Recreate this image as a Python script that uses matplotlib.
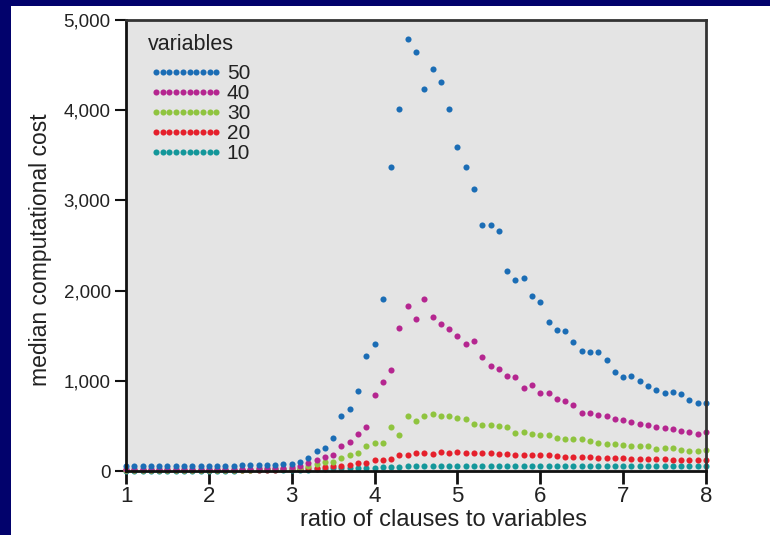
import matplotlib
matplotlib.use("Agg")
import matplotlib.pyplot as plt
import numpy as np
from matplotlib.patches import Rectangle
from matplotlib.ticker import StrMethodFormatter

plt.rcParams["font.family"] = ["Liberation Sans", "DejaVu Sans"]

# ratio of clauses to variables, step 0.1
ratio = np.round(np.arange(1.0, 8.01, 0.1), 1)

cost_50 = [60] * 10 + [
    60, 60, 60, 60, 62, 63, 66, 68, 70, 74,
    80, 100, 140, 222, 251, 370, 610, 690, 890, 1280,
    1410, 1910, 3365, 4012, 4792, 4648, 4235, 4459, 4315, 4012,
    3592, 3372, 3126, 2729, 2729, 2657, 2218, 2116, 2142, 1938,
    1870, 1650, 1563, 1556, 1431, 1329, 1317, 1321, 1234, 1101,
    1045, 1056, 995, 939, 901, 863, 874, 852, 791, 749,
    749,
]
cost_40 = [25] * 10 + [
    25, 25, 25, 25, 25, 27, 28, 30, 33, 37,
    45, 60, 85, 118, 160, 180, 280, 320, 415, 490,
    840, 985, 1125, 1590, 1825, 1685, 1910, 1705, 1625, 1571,
    1499, 1405, 1440, 1261, 1159, 1135, 1056, 1047, 922, 950,
    865, 860, 798, 776, 728, 647, 647, 624, 610, 577,
    566, 540, 521, 506, 484, 473, 462, 447, 436, 410,
    436,
]
cost_30 = [15] * 10 + [
    15, 15, 15, 15, 15, 16, 17, 18, 20, 22,
    25, 32, 50, 74, 96, 103, 148, 181, 196, 281,
    314, 314, 484, 399, 606, 558, 606, 627, 612, 612,
    592, 573, 520, 510, 510, 495, 492, 425, 427, 410,
    399, 394, 370, 357, 357, 352, 329, 307, 294, 303,
    292, 277, 272, 274, 244, 256, 256, 238, 227, 227,
    231,
]
cost_20 = [10] * 10 + [
    10, 10, 10, 10, 10, 11, 12, 13, 15, 17,
    19, 22, 28, 37, 44, 55, 55, 66, 85, 89,
    118, 122, 137, 174, 181, 196, 198, 189, 207, 203,
    216, 200, 198, 196, 196, 185, 192, 177, 177, 177,
    177, 174, 163, 159, 159, 159, 152, 144, 144, 144,
    144, 137, 137, 137, 133, 129, 126, 126, 126, 118,
    118,
]
cost_10 = [5] * 10 + [
    5, 5, 5, 5, 6, 6, 7, 7, 8, 9,
    10, 12, 15, 20, 25, 28, 30, 33, 35, 37,
    38, 40, 42, 46, 50, 52, 55, 58, 60, 60,
] + [60] * 31

series_labels = ["10", "20", "30", "40", "50"]
series_values = [cost_10, cost_20, cost_30, cost_40, cost_50]
series_colors = ["#13979a", "#e5202c", "#8fc43f", "#b52690", "#1b6db5"]

fig = plt.figure(figsize=(7.7, 5.35), dpi=100, facecolor="white")
# navy slide border on the left and top
fig.patches.append(Rectangle((0, 0), 11 / 770, 1, transform=fig.transFigure,
                             facecolor="#02026c", edgecolor="none"))
fig.patches.append(Rectangle((0, 1 - 6 / 535), 1, 6 / 535, transform=fig.transFigure,
                             facecolor="#02026c", edgecolor="none"))

ax = fig.add_axes([126 / 770, 1 - 471 / 535, 580 / 770, 451 / 535])
ax.set_facecolor("#e4e4e4")

handles = {}
for lab, vals, col in zip(series_labels, series_values, series_colors):
    (h,) = ax.plot(ratio, vals, linestyle="none", marker="o", markersize=4.4,
                   markeredgewidth=0, color=col, clip_on=False, label=lab)
    handles[lab] = h

ax.set_xlim(1, 8)
ax.set_ylim(0, 5000)
ax.set_xticks(range(1, 9))
ax.set_yticks(range(0, 5001, 1000))
ax.yaxis.set_major_formatter(StrMethodFormatter("{x:,.0f}"))

for side in ["left", "bottom"]:
    ax.spines[side].set_linewidth(2)
    ax.spines[side].set_color("#111111")
for side in ["top", "right"]:
    ax.spines[side].set_linewidth(2)
    ax.spines[side].set_color("#333333")

ax.tick_params(axis="y", direction="out", length=8, width=1.5, labelsize=13.5,
               colors="#111111", labelcolor="#222222", pad=3)
ax.tick_params(axis="x", direction="out", length=9, width=2, labelsize=16,
               colors="#111111", labelcolor="#222222", pad=2)

ax.set_xlabel("ratio of clauses to variables", fontsize=17, color="#222222")
ax.xaxis.set_label_coords(0.548, -0.085)
ax.set_ylabel("median computational cost", fontsize=16.5, color="#222222")
ax.yaxis.set_label_coords(-0.127, 0.49)

# legend title drawn as its own text so its gap to the entries can be set
ax.text(0.038, 0.945, "variables", transform=ax.transAxes, fontsize=15.5,
        color="#222222", ha="left", va="center")
order = ["50", "40", "30", "20", "10"]
leg = ax.legend([handles[k] for k in order], order,
                loc="upper left", bbox_to_anchor=(0.041, 0.902), frameon=False,
                numpoints=10, handlelength=3.5, handletextpad=0.2,
                labelspacing=0.05, borderpad=0, borderaxespad=0,
                fontsize=15)
for t in leg.get_texts():
    t.set_color("#222222")

fig.savefig("out.png", dpi=100, facecolor=fig.get_facecolor())
